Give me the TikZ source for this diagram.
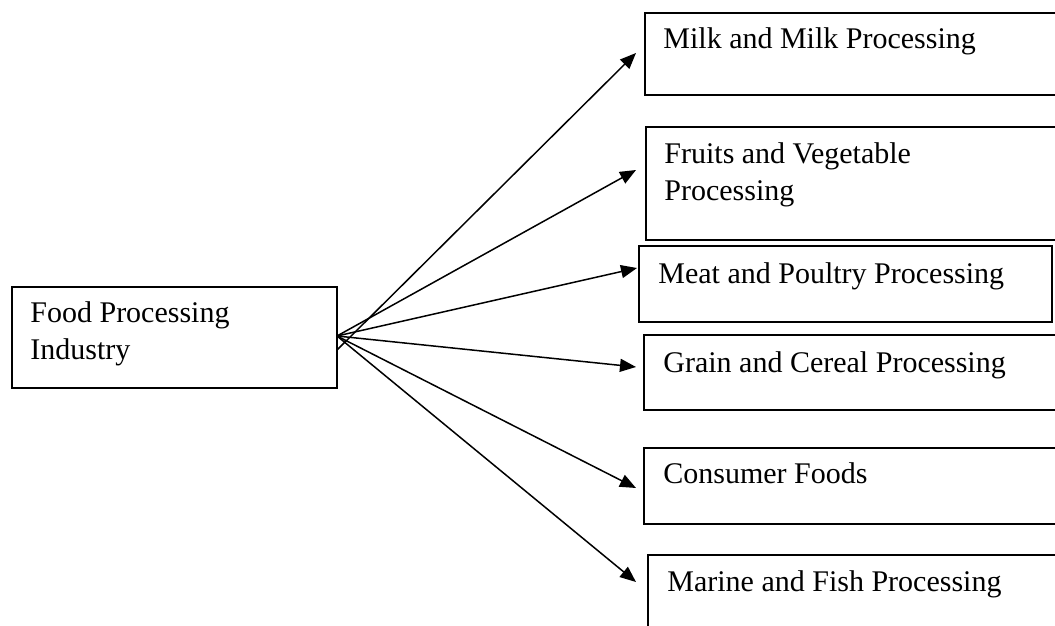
\documentclass[tikz,border=0pt]{standalone}
\usepackage{fontspec}
\setmainfont{Liberation Serif}
\usetikzlibrary{arrows.meta}

\tikzset{
  box/.style={draw, line width=0.8pt, rectangle, inner sep=0pt, anchor=north west},
  lbl/.style={anchor=base west, inner sep=0pt, font=\fontsize{15}{18.5}\selectfont, align=left},
  feed/.style={line width=0.75pt, -{Triangle[length=8pt, width=6.5pt]}}
}

\begin{document}
\begin{tikzpicture}[x=0.5pt, y=-0.5pt]

\useasboundingbox (0,0) rectangle (1055,626);

% boxes
\node [box, minimum width=162.5pt, minimum height=50.5pt] (food) at (11,286) {};
\node [box, minimum width=209pt, minimum height=41pt] (milk) at (644,12) {};
\node [box, minimum width=208.5pt, minimum height=56.5pt] (fruit) at (645,126) {};
\node [box, minimum width=206.5pt, minimum height=38pt] (meat) at (638,245) {};
\node [box, minimum width=209.5pt, minimum height=37.5pt] (grain) at (643,334) {};
\node [box, minimum width=209.5pt, minimum height=38pt] (consumer) at (643,447) {};
\node [box, minimum width=207.5pt, minimum height=43pt] (marine) at (647,554) {};

% texts (base = last line)
\node [lbl] (foodtext) at (30,359) {Food Processing\\Industry};
\node [lbl] (milktext) at (663,49) {Milk and Milk Processing};
\node [lbl] (fruittext) at (664,200) {Fruits and Vegetable\\Processing};
\node [lbl] (meattext) at (658,283) {Meat and Poultry Processing};
\node [lbl] (graintext) at (663,372) {Grain and Cereal Processing};
\node [lbl] (consumertext) at (663,483) {Consumer Foods};
\node [lbl] (marinetext) at (667,591) {Marine and Fish Processing};

% arrows
\coordinate (src) at (337,336);
\coordinate (srcm) at (337,350);

\coordinate (in-milk) at (636,53);
\coordinate (in-fruit) at (636,170);
\coordinate (in-meat) at (637,268);
\coordinate (in-grain) at (636,367);
\coordinate (in-consumer) at (636,488);
\coordinate (in-marine) at (636,582);

\draw [feed] (srcm) -- (in-milk);
\foreach \i in {fruit,meat,grain,consumer,marine}
    \draw [feed] (src) -- (in-\i);

\end{tikzpicture}
\end{document}
